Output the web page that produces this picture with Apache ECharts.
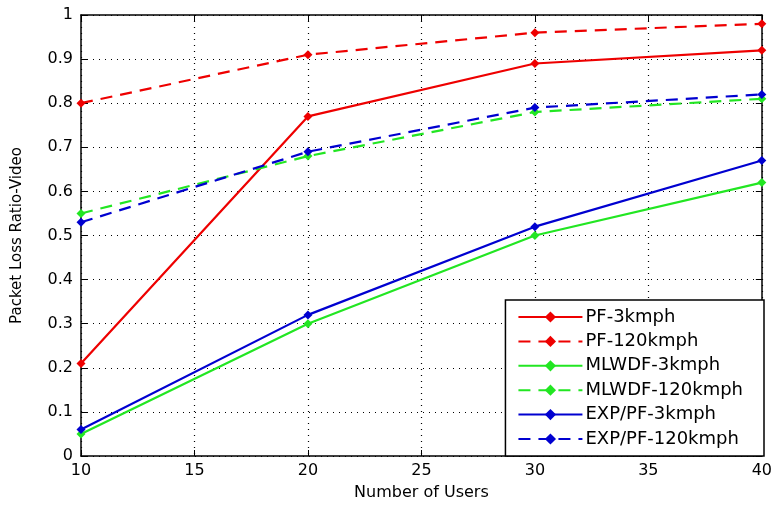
<!DOCTYPE html>
<html>
<head>
<meta charset="utf-8">
<script src="https://cdn.jsdelivr.net/npm/echarts@6/dist/echarts.min.js"></script>
<style>
  html, body { margin: 0; padding: 0; background: #fff; }
  #chart { width: 775px; height: 507px; }
</style>
</head>
<body>
<div id="chart"></div>
<script>
var users = [10, 20, 30, 40]
var pf3 = [0.21, 0.77, 0.89, 0.92]
var pf120 = [0.80, 0.91, 0.96, 0.98]
var mlwdf3 = [0.05, 0.30, 0.50, 0.62]
var mlwdf120 = [0.55, 0.68, 0.78, 0.81]
var exp3 = [0.06, 0.32, 0.52, 0.67]
var exp120 = [0.53, 0.69, 0.79, 0.82]

var RED = '#ee0000'
var GREEN = '#22e622'
var BLUE = '#0000d0'
var font = 'DejaVu Sans, sans-serif'

function pairs(vals) {
  return users.map(function (u, i) { return [u, vals[i]] })
}

function makeSeries(name, vals, color, dashed) {
  return {
    name: name,
    type: 'line',
    data: pairs(vals),
    symbol: 'diamond',
    symbolSize: 9,
    itemStyle: { color: color },
    lineStyle: { color: color, width: 2.2, type: dashed ? [12, 8] : 'solid' },
    z: 3
  }
}

var gridLine = { show: true, lineStyle: { color: '#000', type: [1, 5], width: 1.2 } }
var axLine = { show: true, onZero: false, lineStyle: { color: '#000', width: 1.5 } }
var tick = { show: true, inside: true, length: 6, lineStyle: { color: '#000' } }

var chart = echarts.init(document.getElementById('chart'))
chart.setOption({
  backgroundColor: '#fff',
  animation: false,
  grid: { left: 81, right: 11, top: 15, bottom: 51 },
  legend: {
    orient: 'vertical',
    right: 11,
    bottom: 51,
    backgroundColor: '#fff',
    borderColor: '#000',
    borderWidth: 1.5,
    borderRadius: 0,
    padding: [8, 21, 8, 12],
    itemWidth: 64,
    itemHeight: 14,
    itemGap: 6.4,
    textStyle: { fontFamily: font, fontSize: 18, lineHeight: 17, color: '#000', padding: [0, 0, 0, -2] },
    data: ['PF-3kmph', 'PF-120kmph', 'MLWDF-3kmph', 'MLWDF-120kmph', 'EXP/PF-3kmph', 'EXP/PF-120kmph']
  },
  xAxis: [{
    type: 'value',
    min: 10,
    max: 40,
    interval: 5,
    name: 'Number of Users',
    nameLocation: 'middle',
    nameGap: 29,
    nameTextStyle: { fontFamily: font, fontSize: 16, color: '#000' },
    axisLine: axLine,
    axisTick: tick,
    axisLabel: { fontFamily: font, fontSize: 16, color: '#000', margin: 7 },
    splitLine: gridLine
  }, {
    type: 'value',
    position: 'top',
    min: 10,
    max: 40,
    interval: 5,
    axisLine: axLine,
    axisTick: tick,
    axisLabel: { show: false },
    splitLine: { show: false }
  }],
  yAxis: [{
    type: 'value',
    min: 0,
    max: 1,
    interval: 0.1,
    name: 'Packet Loss Ratio-Video',
    nameLocation: 'middle',
    nameGap: 56,
    nameTextStyle: { fontFamily: font, fontSize: 15, color: '#000' },
    axisLine: axLine,
    axisTick: tick,
    axisLabel: { fontFamily: font, fontSize: 16, color: '#000', margin: 8 },
    splitLine: gridLine
  }, {
    type: 'value',
    position: 'right',
    min: 0,
    max: 1,
    interval: 0.1,
    axisLine: axLine,
    axisTick: tick,
    axisLabel: { show: false },
    splitLine: { show: false }
  }],
  series: [
    makeSeries('PF-3kmph', pf3, RED, false),
    makeSeries('PF-120kmph', pf120, RED, true),
    makeSeries('MLWDF-3kmph', mlwdf3, GREEN, false),
    makeSeries('MLWDF-120kmph', mlwdf120, GREEN, true),
    makeSeries('EXP/PF-3kmph', exp3, BLUE, false),
    makeSeries('EXP/PF-120kmph', exp120, BLUE, true)
  ]
})
</script>
</body>
</html>
